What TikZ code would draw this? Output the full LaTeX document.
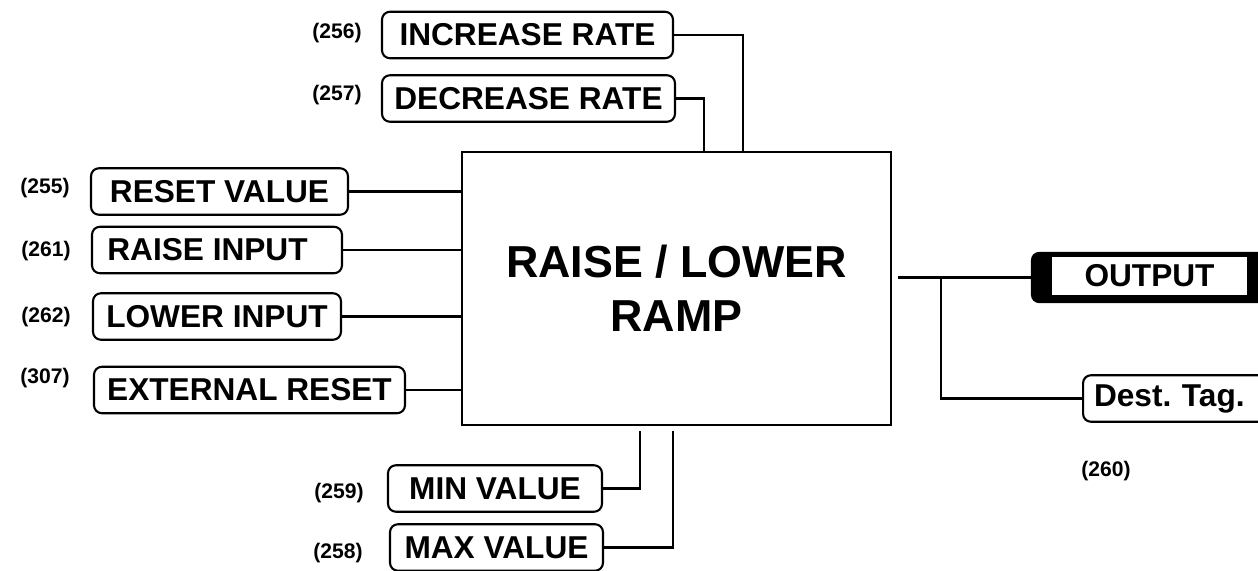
\documentclass[tikz,border=0pt]{standalone}
\usepackage{fontspec}
\setmainfont{Liberation Sans}
\usepackage{tikz}

\begin{document}
\begin{tikzpicture}[x=0.02cm,y=-0.02cm,line width=1.2pt,
  s/.style={draw,rounded corners=4.5pt,minimum height=0.93cm,inner sep=0pt,
            font=\fontsize{18}{21}\selectfont\bfseries},
  tg/.style={inner sep=0pt,font=\fontsize{12}{14}\selectfont\bfseries},
  a/.style={line width=1.3pt}]
\useasboundingbox (0,0) rectangle (1258,571);
\node[draw,minimum width=8.58cm,minimum height=5.46cm,align=center,
      font=\fontsize{25.5}{30.7}\selectfont\bfseries] (ramp) at (676.5,288.5) {RAISE / LOWER\\RAMP};
\node[s,minimum width=5.82cm] (inc) at (527.5,35) {INCREASE RATE};
\node[s,minimum width=5.86cm] (dec) at (528.5,98.5) {DECREASE RATE};
\node[s,minimum width=5.14cm] (rst) at (219.5,191.5) {RESET VALUE};
\node[s,minimum width=5.0cm] (rai) at (217,250) {RAISE INPUT\hspace*{0.38cm}};
\node[s,minimum width=4.96cm] (low) at (217,316.5) {LOWER INPUT};
\node[s,minimum width=6.22cm] (ext) at (249.5,390) {EXTERNAL RESET};
\node[s,minimum width=4.28cm] (mnv) at (495,488.5) {MIN VALUE};
\node[s,minimum width=4.26cm] (mxv) at (496.5,547.5) {MAX VALUE};
\node[draw,fill=black,rounded corners=4pt,minimum width=4.72cm,minimum height=0.98cm] (out) at (1150,277.5) {};
\node[fill=white,inner sep=0pt,minimum width=3.9cm,minimum height=0.76cm,
      font=\fontsize{18}{21}\selectfont\bfseries] (outl) at (1149.5,276) {OUTPUT};
\node[s,anchor=west,text width=4.6cm,inner xsep=0.22cm,align=left] (dst) at (1082,398.5) {Dest.\ Tag.};
% parameter numbers
\node[tg] (n256) at (337,33) {(256)};
\node[tg] (n257) at (337,95) {(257)};
\node[tg] (n255) at (45,188) {(255)};
\node[tg] (n261) at (46,251) {(261)};
\node[tg] (n262) at (46,317) {(262)};
\node[tg] (n307) at (45,378) {(307)};
\node[tg] (n259) at (339,493) {(259)};
\node[tg] (n258) at (338,553) {(258)};
\node[tg] (n260) at (1106,471) {(260)};
% wiring
\draw[a] (inc.east) -| (743,0 |- ramp.north);
\draw[a] (dec.east) -| (704,0 |- ramp.north);
\draw[a] (rst.east) -- (rst.east -| ramp.west);
\draw[a] (rai.east) -- (rai.east -| ramp.west);
\draw[a] (low.east) -- (low.east -| ramp.west);
\draw[a] (ext.east) -- (ext.east -| ramp.west);
\draw[a,shorten >=0.1cm] (mnv.east) -| (640,0 |- ramp.south);
\draw[a,shorten >=0.1cm] (mxv.east) -| (673,0 |- ramp.south);
\draw[a,shorten <=0.12cm] (out.west -| ramp.east) -- (out.west);
\draw[a] (941,0 |- out.west) |- (dst.west);
\end{tikzpicture}
\end{document}
